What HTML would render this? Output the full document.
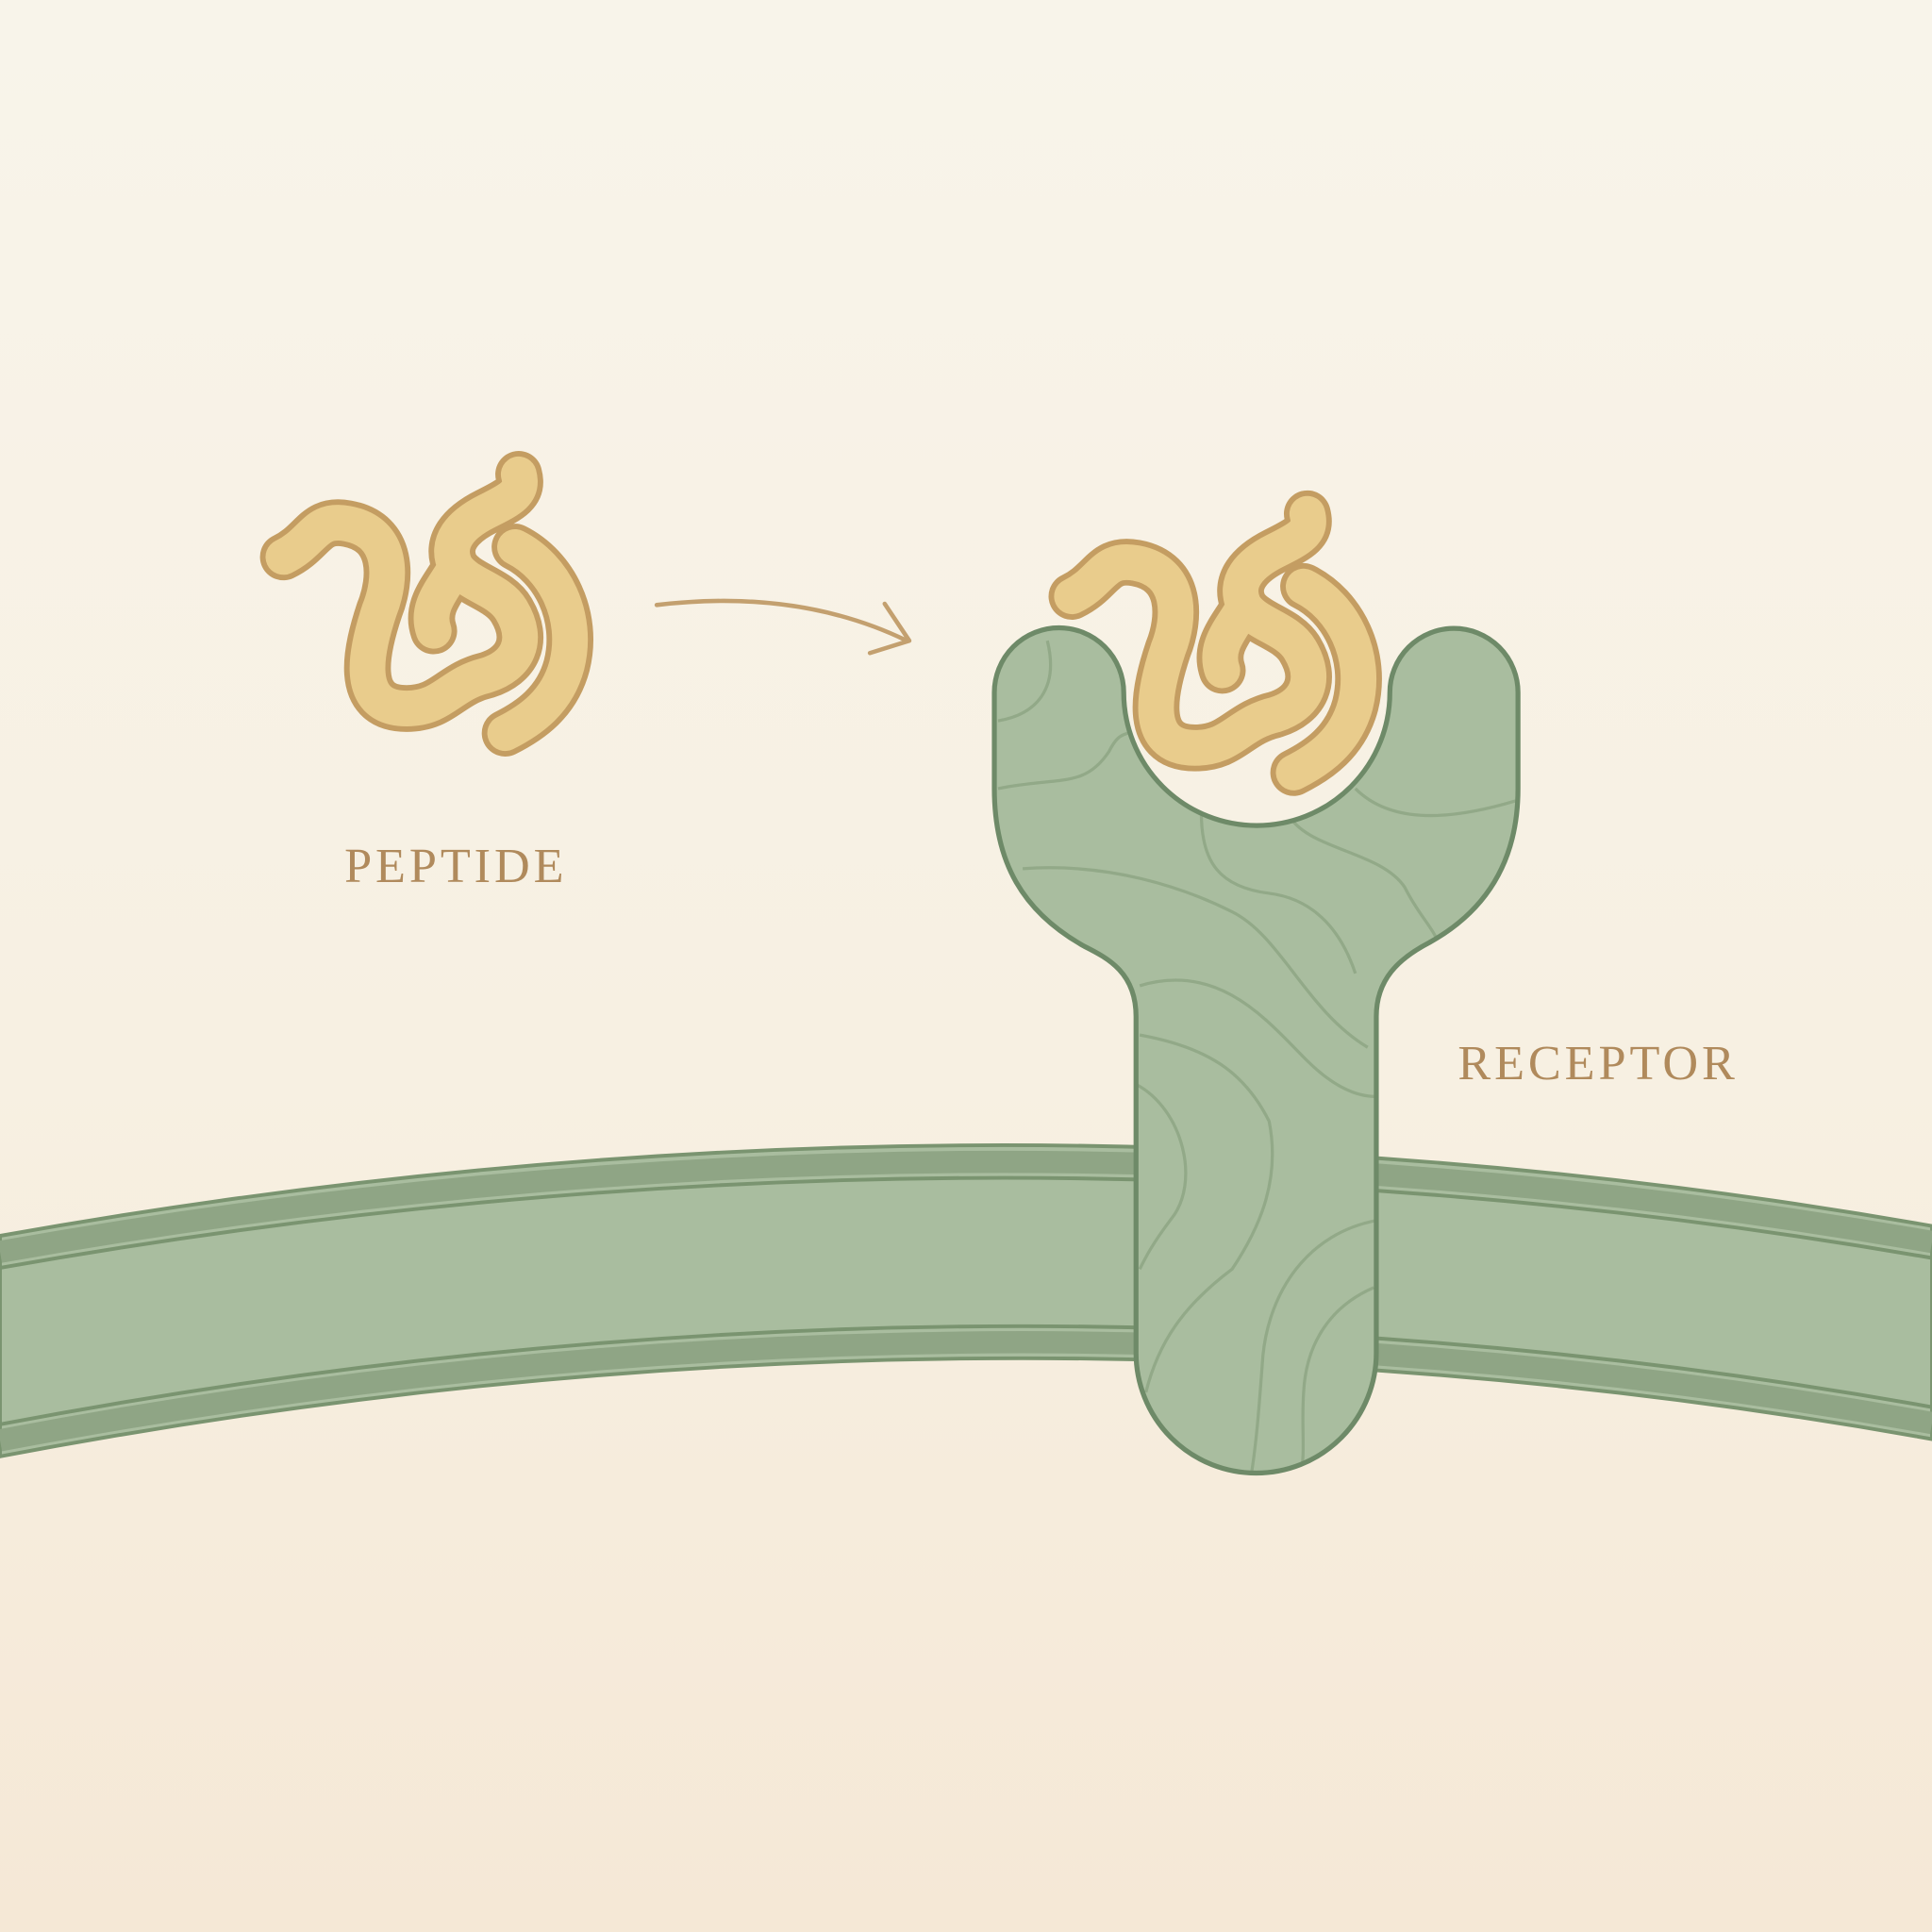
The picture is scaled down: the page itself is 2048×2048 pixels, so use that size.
<!DOCTYPE html>
<html><head><meta charset="utf-8"><style>
html,body{margin:0;padding:0;width:2048px;height:2048px;overflow:hidden}
svg{display:block}
</style></head><body>
<svg width="2048" height="2048" viewBox="0 0 1568 1568" xmlns="http://www.w3.org/2000/svg">
<defs>
<linearGradient id="bg" x1="0" y1="0" x2="0" y2="1">
<stop offset="0" stop-color="#f8f4ea"/><stop offset="0.55" stop-color="#f7f0e2"/><stop offset="1" stop-color="#f5e8d6"/>
</linearGradient>
<clipPath id="rc"><path id="rp" d="M922,1098 L922,825 C922,790 900,778 880,768 C830,740 807,700 807,640 L807,562 A52.5,52.5 0 0 1 912,562 A108,108 0 0 0 1128,562 A52,52 0 0 1 1232,562 L1232,640 C1232,700 1205,740 1160,765 C1135,778 1117,795 1117,825 L1117,1098 A97.5,97.5 0 0 1 922,1098 Z"/></clipPath>
<g id="pep" fill="none" stroke-linecap="round" stroke-linejoin="round">
<g stroke="#c49d62" stroke-width="38">
<path d="M230,452 C255,440 255,420 282,425 C320,432 318,470 308,495 C298,525 285,575 330,575 C360,575 365,555 395,548 C420,540 430,520 415,495 C405,478 380,475 370,460 C360,440 375,425 395,415 C415,405 425,400 421,385"/>
<path d="M370,460 C360,478 345,492 352,512"/>
<path d="M418,444 C450,460 470,500 460,540 C452,570 430,585 410,595"/>
</g>
<g stroke="#e9cc8c" stroke-width="29">
<path d="M230,452 C255,440 255,420 282,425 C320,432 318,470 308,495 C298,525 285,575 330,575 C360,575 365,555 395,548 C420,540 430,520 415,495 C405,478 380,475 370,460 C360,440 375,425 395,415 C415,405 425,400 421,385"/>
<path d="M370,460 C360,478 345,492 352,512"/>
<path d="M418,444 C450,460 470,500 460,540 C452,570 430,585 410,595"/>
</g>
</g>
</defs>
<rect width="1568" height="1568" fill="url(#bg)"/>
<path d="M0,1003 Q800,860 1568,995 L1568,1168 Q800,1030 0,1182 Z" fill="#a9bd9f" stroke="#7a9470" stroke-width="3"/>
<path d="M0,1016 Q800,874 1568,1008" fill="none" stroke="#8fa585" stroke-width="18"/>
<path d="M0,1029 Q800,887 1568,1021" fill="none" stroke="#7a9470" stroke-width="3"/>
<path d="M0,1169 Q800,1017 1568,1155" fill="none" stroke="#8fa585" stroke-width="18"/>
<path d="M0,1156 Q800,1004 1568,1142" fill="none" stroke="#7a9470" stroke-width="3"/>
<use href="#rp" fill="#a9bd9f"/>
<g clip-path="url(#rc)" fill="none" stroke="#92a988" stroke-width="2.5">
<path d="M850,520 C860,560 840,580 810,585"/>
<path d="M810,640 C860,630 880,640 900,610 C910,590 915,600 920,590"/>
<path d="M830,705 C900,700 960,720 1000,740 C1040,760 1060,820 1110,850"/>
<path d="M975,660 C975,700 990,720 1030,725 C1070,730 1090,760 1100,790"/>
<path d="M1045,660 C1060,690 1120,690 1140,720 C1150,740 1160,750 1165,760"/>
<path d="M1100,640 C1130,670 1180,665 1230,650"/>
<path d="M925,800 C990,780 1030,830 1060,860 C1090,890 1110,890 1120,890"/>
<path d="M925,840 C980,850 1010,870 1030,910 C1040,960 1020,1000 1000,1030 C960,1060 940,1090 930,1130"/>
<path d="M922,880 C960,900 975,960 950,990 C935,1010 930,1020 925,1030"/>
<path d="M1120,990 C1060,1000 1030,1050 1025,1100 C1022,1140 1020,1170 1015,1200"/>
<path d="M1115,1045 C1080,1060 1060,1090 1058,1130 C1056,1160 1060,1180 1055,1200"/>
</g>
<use href="#rp" fill="none" stroke="#6e8a68" stroke-width="4"/>
<use href="#pep"/>
<use href="#pep" transform="translate(640,32)"/>
<g fill="none" stroke="#c3a06f" stroke-width="3.5" stroke-linecap="round" stroke-linejoin="round">
<path d="M533,491 C600,483 670,488 736,520"/>
<path d="M718,490 L738,520 L706,530"/>
</g>
<text x="370" y="716" text-anchor="middle" font-family="'Liberation Serif',serif" font-size="40" letter-spacing="3" fill="#b08a5c">PEPTIDE</text>
<text x="1297" y="876" text-anchor="middle" font-family="'Liberation Serif',serif" font-size="40" letter-spacing="3" fill="#b08a5c">RECEPTOR</text>
</svg>
</body></html>
